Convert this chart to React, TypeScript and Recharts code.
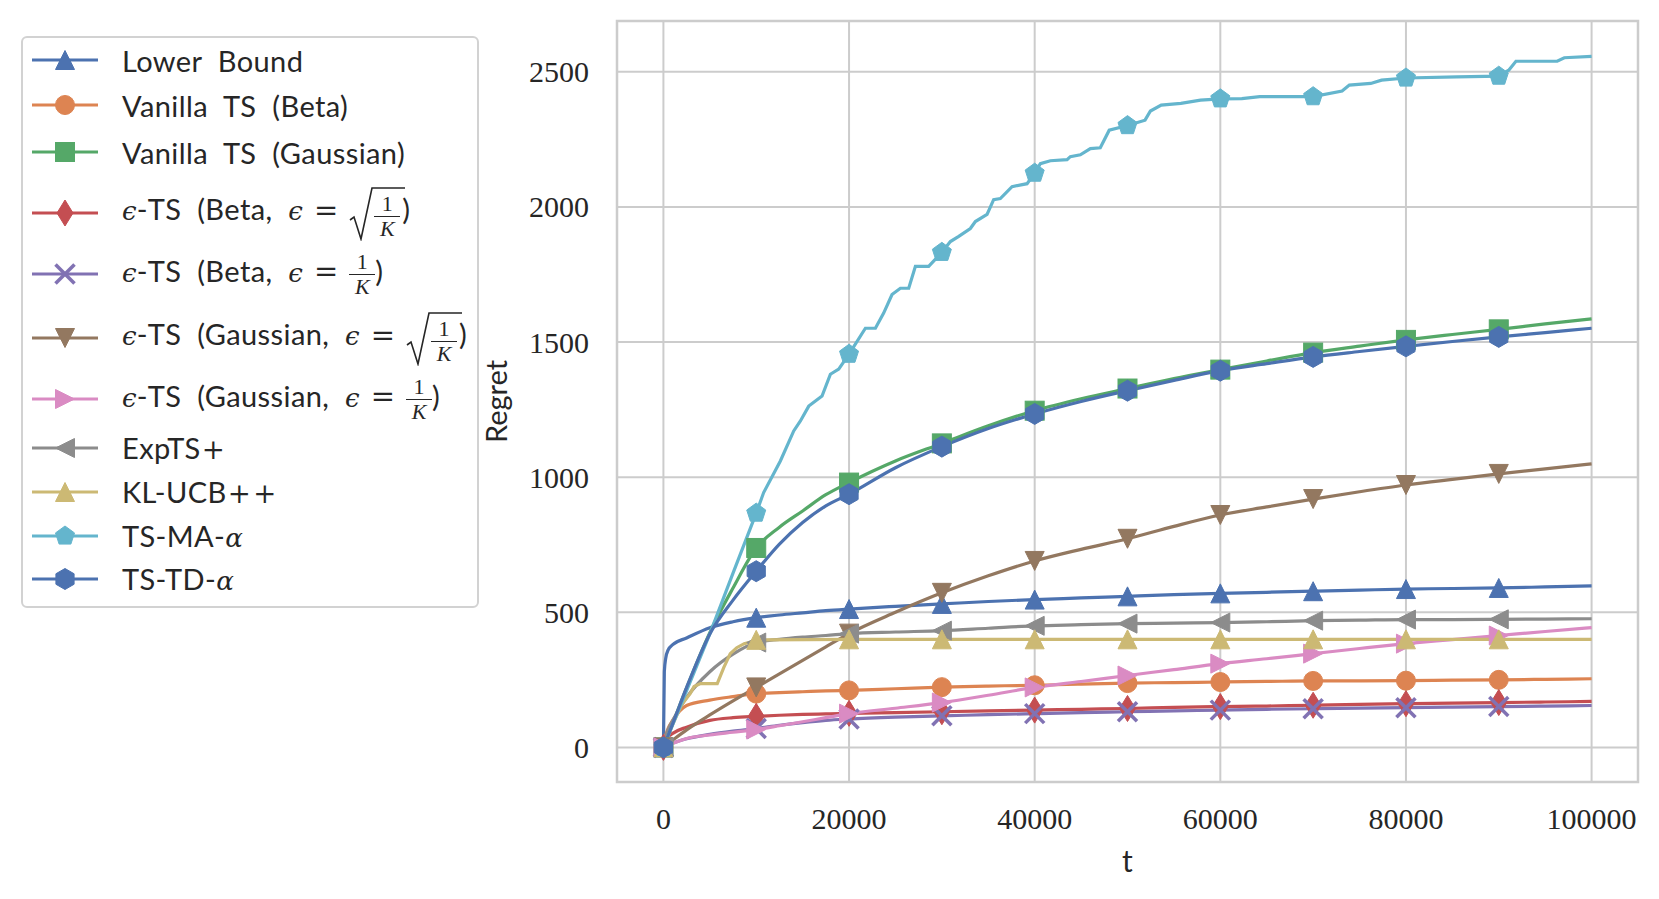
import React from 'react';
import { LineChart, Line, XAxis, YAxis, CartesianGrid, Legend, ReferenceArea } from 'recharts';

// time grid shared by the smooth curves
const T = [0, 100, 250, 500, 1000, 2500, 5000, 7500, 10000, 12500, 15000, 17500, 20000, 25000, 30000, 35000, 40000, 45000, 50000, 55000, 60000, 65000, 70000, 75000, 80000, 85000, 90000, 95000, 100000];

const lowerBound = [0, 280, 330, 360, 380, 405, 443, 465, 480, 490, 498, 506, 512, 522, 531, 540, 547, 553, 559, 565, 570, 574, 578, 582, 586, 588, 590, 594, 598];
const vanillaBeta = [0, 20, 45, 70, 100, 155, 175, 188, 199, 203, 206, 209, 211, 217, 223, 227, 230, 234, 238, 240, 242, 244, 246, 246, 247, 249, 250, 252, 254];
const vanillaGauss = [0, 9, 22, 44, 88, 220, 425, 590, 738, 815, 875, 935, 980, 1060, 1125, 1190, 1246, 1290, 1328, 1365, 1398, 1430, 1461, 1485, 1508, 1528, 1547, 1567, 1586];
const epsBetaSqrt = [0, 12, 25, 38, 52, 75, 100, 110, 115, 119, 122, 124, 126, 129, 132, 135, 138, 141, 144, 148, 151, 153, 156, 159, 162, 164, 166, 168, 170];
const epsBetaInv = [0, 3, 6, 10, 16, 32, 48, 60, 70, 82, 92, 100, 105, 112, 117, 121, 125, 129, 132, 135, 138, 141, 143, 145, 147, 149, 151, 153, 155];
const epsGaussSqrt = [0, 3, 7, 14, 27, 65, 120, 172, 222, 272, 322, 372, 421, 500, 572, 635, 690, 733, 772, 818, 860, 890, 919, 946, 971, 992, 1012, 1031, 1049];
const epsGaussInv = [0, 3, 6, 10, 15, 33, 46, 56, 66, 80, 95, 110, 125, 145, 166, 193, 222, 244, 266, 288, 310, 328, 347, 366, 384, 399, 414, 429, 443];
const expTS = [0, 20, 40, 65, 100, 185, 280, 345, 388, 400, 408, 414, 421, 427, 432, 441, 450, 454, 458, 460, 462, 465, 469, 471, 473, 473, 474, 475, 476];
const tsTD = [0, 9, 22, 44, 88, 222, 420, 545, 652, 752, 832, 894, 937, 1035, 1113, 1180, 1234, 1280, 1320, 1358, 1394, 1420, 1445, 1465, 1484, 1502, 1519, 1535, 1551];

// KL-UCB++ has a small staircase early on
const klT = [0, 1000, 2000, 2900, 3300, 4000, 5800, 6500, 7200, 7900, 8700, 9400, 10000, 20000, 30000, 40000, 50000, 60000, 70000, 80000, 90000, 100000];
const klUcb = [0, 85, 160, 200, 225, 236, 236, 295, 347, 369, 384, 390, 398, 400, 400, 400, 400, 400, 400, 400, 400, 400];

// TS-MA-alpha is a step-like curve
const maT = [0, 2500, 5000, 7500, 10000, 10800, 12600, 14040, 14760, 15660, 17090, 17990, 18890, 20000, 21760, 22840, 23730, 24630, 25530, 26430, 27150, 28580, 30000, 30920, 31820, 33070, 33610, 34870, 35580, 36300, 37560, 39180, 40000, 40610, 41690, 43490, 43840, 44920, 46000, 47070, 48030, 50000, 51890, 52470, 53630, 55750, 57870, 60000, 62320, 64250, 69260, 70000, 73120, 73900, 76210, 77370, 80000, 85480, 90000, 91070, 91850, 96290, 97060, 100000];
const tsMA = [0, 210, 420, 645, 867, 943, 1060, 1171, 1208, 1263, 1300, 1381, 1400, 1455, 1551, 1551, 1607, 1676, 1699, 1699, 1780, 1780, 1832, 1872, 1891, 1920, 1946, 1972, 2027, 2031, 2075, 2086, 2125, 2160, 2171, 2175, 2186, 2193, 2216, 2219, 2284, 2301, 2321, 2355, 2377, 2383, 2395, 2400, 2401, 2408, 2408, 2408, 2429, 2451, 2457, 2469, 2477, 2481, 2484, 2506, 2539, 2539, 2552, 2557];

const xTicks = [0, 20000, 40000, 60000, 80000, 100000];
const yTicks = [0, 500, 1000, 1500, 2000, 2500];

const SANS = 'Lato, "Liberation Sans", sans-serif';
const SERIF = '"Liberation Serif", "DejaVu Serif", serif';
const MATH = '"DejaVu Serif", serif';
const INK = '#262626';

// vertical centre of each legend row, measured from the legend box top
const legendRowY = [24, 69, 116, 177, 238, 302, 363, 412, 456, 500, 543];

type Shape = '^' | 'v' | '<' | '>' | 'o' | 's' | 'd' | 'x' | 'p' | 'h';

const polygon = (n: number, r: number, cx: number, cy: number) =>
  Array.from({ length: n }, (_, i) => {
    const a = -Math.PI / 2 + (i * 2 * Math.PI) / n;
    return `${cx + r * Math.cos(a)},${cy + r * Math.sin(a)}`;
  }).join(' ');

function marker(shape: Shape, cx: number, cy: number, color: string, key?: string) {
  const s = 19;
  const h = s / 2;
  const common = { fill: color, stroke: color, strokeWidth: 1 };
  switch (shape) {
    case '^':
      return <polygon key={key} points={`${cx},${cy - h} ${cx - h},${cy + h} ${cx + h},${cy + h}`} {...common} />;
    case 'v':
      return <polygon key={key} points={`${cx},${cy + h} ${cx - h},${cy - h} ${cx + h},${cy - h}`} {...common} />;
    case '>':
      return <polygon key={key} points={`${cx + h},${cy} ${cx - h},${cy - h} ${cx - h},${cy + h}`} {...common} />;
    case '<':
      return <polygon key={key} points={`${cx - h},${cy} ${cx + h},${cy - h} ${cx + h},${cy + h}`} {...common} />;
    case 'o':
      return <circle key={key} cx={cx} cy={cy} r={h} {...common} />;
    case 's':
      return <rect key={key} x={cx - h} y={cy - h} width={s} height={s} {...common} />;
    case 'd':
      return <polygon key={key} points={`${cx},${cy - 13} ${cx + 8},${cy} ${cx},${cy + 13} ${cx - 8},${cy}`} {...common} />;
    case 'x':
      return (
        <g key={key} stroke={color} strokeWidth={3.5}>
          <line x1={cx - h} y1={cy - h} x2={cx + h} y2={cy + h} />
          <line x1={cx - h} y1={cy + h} x2={cx + h} y2={cy - h} />
        </g>
      );
    case 'p':
      return <polygon key={key} points={polygon(5, 10, cx, cy)} {...common} />;
    case 'h':
    default:
      return <polygon key={key} points={polygon(6, 10.5, cx, cy)} {...common} />;
  }
}

const Eps = () => <span style={{ fontFamily: MATH, fontStyle: 'italic', fontSize: '0.9em', letterSpacing: 0 }}>ϵ</span>;
const Alpha = () => <span style={{ fontFamily: MATH, fontStyle: 'italic', fontSize: '0.9em' }}>α</span>;
const Plus = () => <span style={{ fontFamily: MATH, fontSize: '0.95em', margin: '0 1px' }}>+</span>;
const Eq = () => <span style={{ fontFamily: MATH, margin: '0 11px', letterSpacing: 0 }}>=</span>;

const Frac = () => (
  <span style={{ display: 'inline-flex', flexDirection: 'column', alignItems: 'center', verticalAlign: 'middle', fontFamily: SERIF, fontSize: 22, lineHeight: 1, minWidth: 26, letterSpacing: 0 }}>
    <span style={{ padding: '0 3px 1px' }}>1</span>
    <span style={{ borderTop: `1.5px solid ${INK}`, padding: '1px 3px 0', fontStyle: 'italic', alignSelf: 'stretch', textAlign: 'center' }}>K</span>
  </span>
);

const Sqrt = () => (
  <span style={{ display: 'inline-flex', alignItems: 'center', verticalAlign: 'middle', position: 'relative', height: 56, paddingLeft: 25, paddingRight: 2, paddingTop: 6, boxSizing: 'border-box' }}>
    <svg width={56} height={56} style={{ position: 'absolute', left: 0, top: 0 }}>
      <path d="M1,35 L5,32 L12,54 L23,3 L56,3" fill="none" stroke={INK} strokeWidth={1.6} />
    </svg>
    <Frac />
  </span>
);

const series = [
  { key: 'lb', label: <>Lower Bound</>, color: '#4C72B0', shape: '^' as Shape, t: T, v: lowerBound, curve: 'monotone' },
  { key: 'vb', label: <>Vanilla TS (Beta)</>, color: '#DD8452', shape: 'o' as Shape, t: T, v: vanillaBeta, curve: 'monotone' },
  { key: 'vg', label: <>Vanilla TS (Gaussian)</>, color: '#55A868', shape: 's' as Shape, t: T, v: vanillaGauss, curve: 'monotone' },
  { key: 'ebs', label: <><Eps />-TS (Beta, <Eps /><Eq /><Sqrt />)</>, color: '#C44E52', shape: 'd' as Shape, t: T, v: epsBetaSqrt, curve: 'monotone' },
  { key: 'ebi', label: <><Eps />-TS (Beta, <Eps /><Eq /><Frac />)</>, color: '#8172B3', shape: 'x' as Shape, t: T, v: epsBetaInv, curve: 'monotone' },
  { key: 'egs', label: <><Eps />-TS (Gaussian, <Eps /><Eq /><Sqrt />)</>, color: '#937860', shape: 'v' as Shape, t: T, v: epsGaussSqrt, curve: 'monotone' },
  { key: 'egi', label: <><Eps />-TS (Gaussian, <Eps /><Eq /><Frac />)</>, color: '#DA8BC3', shape: '>' as Shape, t: T, v: epsGaussInv, curve: 'monotone' },
  { key: 'exp', label: <>ExpTS<Plus /></>, color: '#8C8C8C', shape: '<' as Shape, t: T, v: expTS, curve: 'monotone' },
  { key: 'kl', label: <>KL-UCB<Plus /><Plus /></>, color: '#CCB974', shape: '^' as Shape, t: klT, v: klUcb, curve: 'linear' },
  { key: 'ma', label: <>TS-MA-<Alpha /></>, color: '#64B5CD', shape: 'p' as Shape, t: maT, v: tsMA, curve: 'linear' },
  { key: 'td', label: <>TS-TD-<Alpha /></>, color: '#4C72B0', shape: 'h' as Shape, t: T, v: tsTD, curve: 'monotone' },
];

const LegendBox = () => (
  <div style={{ position: 'relative', boxSizing: 'border-box', width: 458, height: 572, border: '2px solid #d2d2d2', borderRadius: 6, background: '#fff', fontFamily: SANS, fontSize: 29, wordSpacing: 8, letterSpacing: 0.4, color: INK }}>
    {series.map((s, i) => (
      <div key={s.key} style={{ position: 'absolute', left: 0, top: legendRowY[i] - 2 - 35, height: 70, display: 'flex', alignItems: 'center' }}>
        <svg width={66} height={30} style={{ marginLeft: 9, flex: 'none' }}>
          <line x1={0} y1={15} x2={66} y2={15} stroke={s.color} strokeWidth={3.2} />
          {marker(s.shape, 33, 15, s.color)}
        </svg>
        <span style={{ marginLeft: 24, whiteSpace: 'nowrap', lineHeight: 1 }}>{s.label}</span>
      </div>
    ))}
  </div>
);

const XTick = (p: any) => (
  <text x={p.x} y={p.y} dy="0.71em" textAnchor="middle" fill={INK} fontSize={30} style={{ fontFamily: SERIF }}>
    {p.payload.value}
  </text>
);

const YTick = (p: any) => (
  <text x={p.x} y={p.y} dy="0.35em" textAnchor="end" fill={INK} fontSize={30} style={{ fontFamily: SERIF }}>
    {p.payload.value}
  </text>
);

export default function App() {
  return (
    <div style={{ position: 'absolute', left: 0, top: 0, width: 1659, height: 899, background: '#fff' }}>
      <LineChart width={1659} height={899} margin={{ top: 21, right: 21, bottom: 0, left: 377 }}>
        <CartesianGrid stroke="#cccccc" strokeWidth={2} />
        <ReferenceArea x1={-5000} x2={105000} y1={-128} y2={2688} fill="none" stroke="#cccccc" strokeWidth={2.5} />
        <XAxis
          dataKey="t"
          type="number"
          domain={[-5000, 105000]}
          ticks={xTicks}
          allowDataOverflow
          height={117}
          axisLine={false}
          tickLine={false}
          tickSize={0}
          tickMargin={26}
          tick={XTick}
          label={{ value: 't', position: 'insideBottom', offset: 27, fill: INK, fontSize: 30, fontFamily: SANS }}
        />
        <YAxis
          type="number"
          domain={[-128, 2688]}
          ticks={yTicks}
          allowDataOverflow
          width={240}
          axisLine={false}
          tickLine={false}
          tickSize={0}
          tickMargin={28}
          tick={YTick}
          label={{ value: 'Regret', angle: -90, position: 'center', fill: INK, fontSize: 29, fontFamily: SANS }}
        />
        {series.map((s) => (
          <Line
            key={s.key}
            data={s.t.map((t, i) => ({ t, v: s.v[i] }))}
            dataKey="v"
            name={s.key}
            type={s.curve as 'monotone' | 'linear'}
            stroke={s.color}
            strokeWidth={3.2}
            isAnimationActive={false}
            activeDot={false}
            dot={(p: any) => {
              const k = `${s.key}-${p.index}`;
              const t = p.payload.t;
              if (t % 10000 !== 0 || t > 90000) return <g key={k} />;
              return marker(s.shape, p.cx, p.cy, s.color, k);
            }}
          />
        ))}
        <Legend
          layout="vertical"
          align="center"
          verticalAlign="middle"
          wrapperStyle={{ left: 21, top: 36, width: 458, height: 572 }}
          content={() => <LegendBox />}
        />
      </LineChart>
    </div>
  );
}
